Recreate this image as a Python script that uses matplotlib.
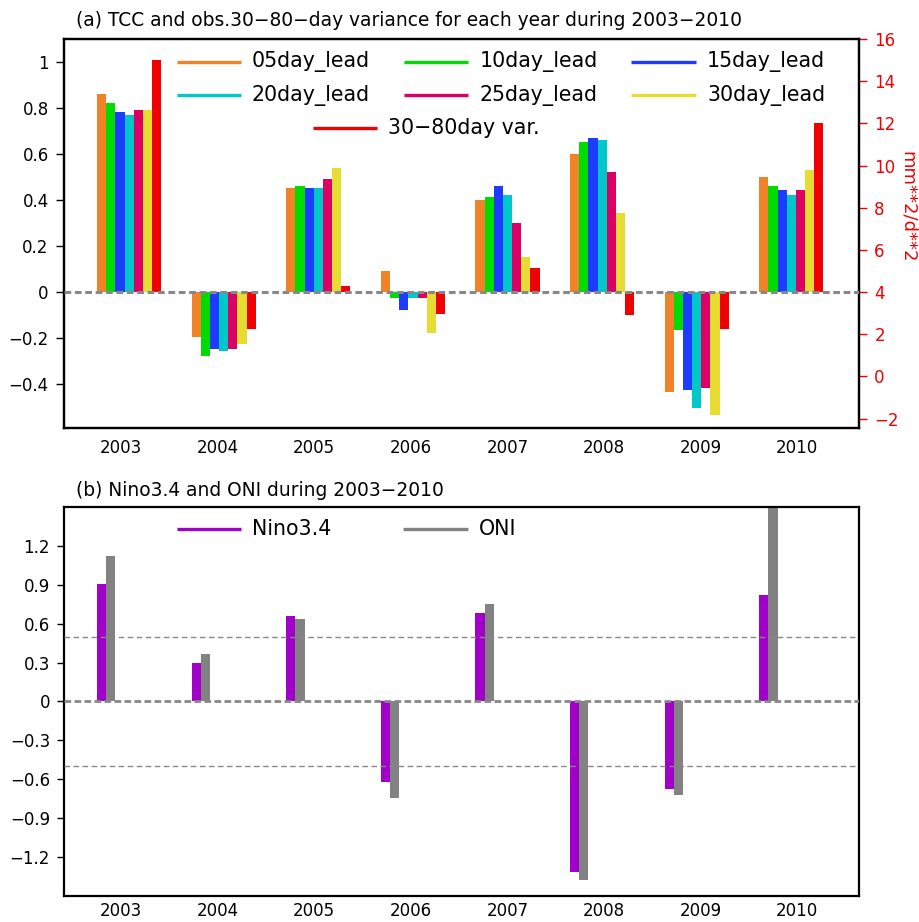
import matplotlib
matplotlib.use("Agg")
import matplotlib.pyplot as plt
from matplotlib.lines import Line2D
import numpy as np

years = ['2003', '2004', '2005', '2006', '2007', '2008', '2009', '2010']
lead_labels = ['05day_lead', '10day_lead', '15day_lead', '20day_lead', '25day_lead', '30day_lead']
tcc_05 = [0.860, -0.195, 0.452, 0.091, 0.400, 0.600, -0.433, 0.500]
tcc_10 = [0.820, -0.277, 0.461, -0.025, 0.413, 0.651, -0.164, 0.461]
tcc_15 = [0.783, -0.245, 0.452, -0.078, 0.461, 0.671, -0.425, 0.442]
tcc_20 = [0.770, -0.255, 0.452, -0.025, 0.422, 0.661, -0.503, 0.422]
tcc_25 = [0.791, -0.245, 0.491, -0.025, 0.300, 0.522, -0.416, 0.442]
tcc_30 = [0.791, -0.226, 0.539, -0.177, 0.152, 0.343, -0.535, 0.530]
var_3080 = [15.0, 2.26, 4.28, 2.96, 5.14, 2.92, 2.24, 12.02]
nino34 = [0.907, 0.298, 0.660, -0.624, 0.683, -1.317, -0.678, 0.822]
oni = [1.12, 0.365, 0.635, -0.747, 0.753, -1.379, -0.724, 1.60]

lead_colors = ['#f08228', '#00dc00', '#1e3cff', '#00c8c8', '#dc0064', '#e6dc32']
red = '#f00000'
purple = '#a000c8'
grey = '#828282'

plt.rcParams['font.family'] = ['DejaVu Sans']

fig = plt.figure(figsize=(9.19, 9.22), dpi=100)
W, H = 919, 922

def axrect(l, r, t, b):
    return [l / W, 1 - b / H, (r - l) / W, (b - t) / H]

n = len(years)
x = np.arange(n)
w = 0.097
xlim = (-0.349, 8.055)
xt = 0.254 + 1.021 * x

# ---------- panel (a)
ax = fig.add_axes(axrect(64, 859, 39, 428))
ax2 = ax.twinx()
ax.set_zorder(ax2.get_zorder() + 1)
ax.patch.set_visible(False)

for k, vals in enumerate([tcc_05, tcc_10, tcc_15, tcc_20, tcc_25, tcc_30]):
    ax.bar(x + k * w, vals, width=w, align='edge', color=lead_colors[k], linewidth=0)
ax2.bar(x + 6 * w, np.array(var_3080) - 4, bottom=4, width=w, align='edge', color=red, linewidth=0)

ax.axhline(0, color='#888888', lw=2.2, ls=(0, (2.2, 1.2)), zorder=5)
ax.set_xlim(*xlim)
ax.set_ylim(-0.59, 1.10)
ax2.set_ylim(-2.45, 16)
ax.set_yticks([-0.4, -0.2, 0, 0.2, 0.4, 0.6, 0.8, 1])
ax.set_yticklabels(['−0.4', '−0.2', '0', '0.2', '0.4', '0.6', '0.8', '1'])
ax2.set_yticks(np.arange(-2, 17, 2))
ax2.set_yticklabels([('−%d' % -v) if v < 0 else '%d' % v for v in np.arange(-2, 17, 2)])
ax.set_xticks(xt)
ax.set_xticklabels(years)
ax.tick_params(axis='x', length=0, labelsize=12, pad=8)
ax.tick_params(axis='y', direction='out', length=6, width=1, labelsize=12, pad=5)
ax2.tick_params(axis='y', direction='out', length=6, width=1, labelsize=12, pad=5,
                colors=red)
for a in (ax, ax2):
    for s in a.spines.values():
        s.set_linewidth(1.6)
        s.set_color('black')

# legend (a)
rows = [0.941, 0.856]
cols = [(0.142, 0.223, 0.236), (0.428, 0.508, 0.523), (0.713, 0.795, 0.809)]
for k, lab in enumerate(lead_labels):
    r, c = divmod(k, 3)
    x0, x1, xtx = cols[c]
    ax.add_line(Line2D([x0, x1], [rows[r], rows[r]], transform=ax.transAxes,
                       color=lead_colors[k], lw=2.4, solid_capstyle='butt'))
    ax.text(xtx, rows[r], lab, transform=ax.transAxes, fontsize=14.8, va='center', ha='left')
ax.add_line(Line2D([0.313, 0.394], [0.771, 0.771], transform=ax.transAxes,
                   color=red, lw=2.4, solid_capstyle='butt'))
ax.text(0.407, 0.771, '30−80day var.', transform=ax.transAxes, fontsize=14.8, va='center', ha='left')

fig.text(76 / W, 1 - 20 / H, '(a) TCC and obs.30−80−day variance for each year during 2003−2010',
         fontsize=13.4, va='center', ha='left')
fig.text(908 / W, 1 - 207 / H, 'mm**2/d**2', color=red, rotation=270, fontsize=13,
         va='center', ha='center')

# ---------- panel (b)
bx = fig.add_axes(axrect(64, 859, 507, 896))
bx.bar(x, nino34, width=w, align='edge', color=purple, linewidth=0)
bx.bar(x + w, oni, width=w, align='edge', color=grey, linewidth=0)
bx.axhline(0, color='#888888', lw=2.0, ls=(0, (2.4, 1.2)), zorder=5)
for yv in (0.5, -0.5):
    bx.axhline(yv, color='#888888', lw=1.0, ls=(0, (4, 2.5)), zorder=5)
bx.set_xlim(*xlim)
bx.set_ylim(-1.5, 1.5)
yt = [-1.2, -0.9, -0.6, -0.3, 0, 0.3, 0.6, 0.9, 1.2]
bx.set_yticks(yt)
bx.set_yticklabels([('−%g' % -v) if v < 0 else '%g' % v for v in yt])
bx.set_xticks(xt)
bx.set_xticklabels(years)
bx.tick_params(axis='x', length=0, labelsize=12, pad=4.5)
bx.tick_params(axis='y', direction='out', length=5, width=1, labelsize=12, pad=5)
for s in bx.spines.values():
    s.set_linewidth(1.6)

bx.add_line(Line2D([0.142, 0.223], [0.943, 0.943], transform=bx.transAxes,
                   color=purple, lw=2.4, solid_capstyle='butt'))
bx.text(0.236, 0.943, 'Nino3.4', transform=bx.transAxes, fontsize=14.8, va='center', ha='left')
bx.add_line(Line2D([0.426, 0.508], [0.943, 0.943], transform=bx.transAxes,
                   color=grey, lw=2.4, solid_capstyle='butt'))
bx.text(0.522, 0.943, 'ONI', transform=bx.transAxes, fontsize=14.8, va='center', ha='left')

fig.text(76 / W, 1 - 490 / H, '(b) Nino3.4 and ONI during 2003−2010',
         fontsize=13.4, va='center', ha='left')

fig.savefig('out.png', dpi=100)
